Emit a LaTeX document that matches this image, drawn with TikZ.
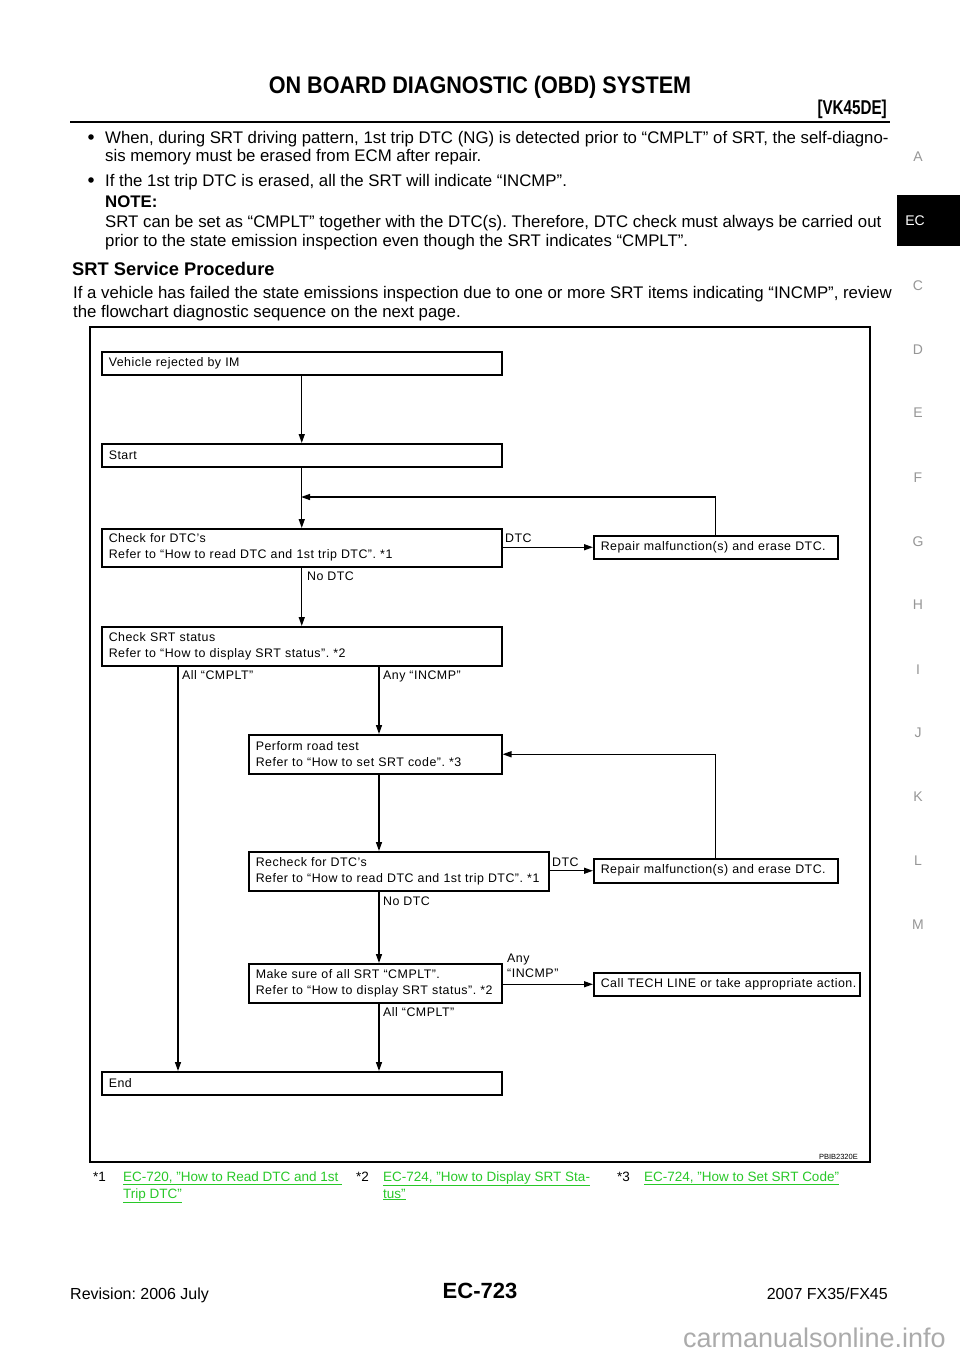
\documentclass[tikz,border=0pt]{standalone}
\usepackage{fontspec}
\setmainfont{Liberation Sans}
\newfontfamily\flowfont{Liberation Sans}[LetterSpace=4]
\newfontfamily\narrowfont{Liberation Sans}[FakeStretch=0.9]
\newfontfamily\tightfont{Liberation Sans}[FakeStretch=0.76]
\usetikzlibrary{arrows.meta}
\newcommand\bodyfs{\fontsize{16.8}{18}\selectfont}
\newcommand\flowfs{\fontsize{12.4}{16}\selectfont\flowfont}
\newcommand\footfs{\fontsize{13.5}{17}\selectfont}
\definecolor{linkgreen}{RGB}{40,200,40}
\definecolor{tabgray}{RGB}{150,150,150}
\frenchspacing
\begin{document}
\frenchspacing
\begin{tikzpicture}[x=1pt,y=-1pt,
  txt/.style={anchor=base west,inner sep=0pt,font=\bodyfs},
  box/.style={draw,line width=1.5pt,anchor=north west,inner xsep=7pt,inner ysep=0pt,align=left,font=\flowfs},
  lbl/.style={anchor=base west,inner sep=0pt,font=\flowfs},
  arr/.style={line width=1.4pt,-{Triangle[length=9pt,width=6pt]}},
  side/.style={inner sep=0pt,text=tabgray,font=\fontsize{14}{16}\selectfont},
  link/.style={anchor=base west,inner sep=0pt,font=\footfs,text=linkgreen}]
\useasboundingbox[fill=white] (0,0) rectangle (960,1358);
% header
\node[anchor=base,inner sep=0pt,font=\fontsize{24}{28}\selectfont\bfseries\narrowfont] (title) at (480,93.5) {ON BOARD DIAGNOSTIC (OBD) SYSTEM};
\node[anchor=base east,inner sep=0pt,font=\fontsize{20}{24}\selectfont\bfseries\tightfont] (model) at (887,114) {[VK45DE]};
\draw[line width=2.5pt] (70,122) -- (890,122);
% body text
\fill (91,137) circle (2.8);
\fill (91,180) circle (2.8);
\node[txt] (b1a) at (105,143) {When, during SRT driving pattern, 1st trip DTC (NG) is detected prior to “CMPLT” of SRT, the self-diagno-};
\node[txt] (b1b) at (105,161) {sis memory must be erased from ECM after repair.};
\node[txt] (b2) at (105,186) {If the 1st trip DTC is erased, all the SRT will indicate “INCMP”.};
\node[txt,font=\bodyfs\bfseries] (note) at (105,207) {NOTE:};
\node[txt] (n1) at (105,227) {SRT can be set as “CMPLT” together with the DTC(s). Therefore, DTC check must always be carried out};
\node[txt] (n2) at (105,246) {prior to the state emission inspection even though the SRT indicates “CMPLT”.};
\node[txt,font=\fontsize{18.3}{20}\selectfont\bfseries] (head) at (72,275) {SRT Service Procedure};
\node[txt] (p1) at (73,298) {If a vehicle has failed the state emissions inspection due to one or more SRT items indicating “INCMP”, review};
\node[txt] (p2) at (73,317) {the flowchart diagnostic sequence on the next page.};
% side tabs
\foreach \l/\yy in {A/157,C/286,D/350,E/413,F/478,G/542,H/605,I/670,J/733,K/797,L/861,M/925}
  \node[side] (tab\l) at (918,\yy) {\l};
\fill (897,195) rectangle (960,246);
\node[side,text=white] (tabEC) at (915,221) {EC};
% frame
\draw[line width=1.5pt] (90,327) rectangle (870,1162);
% flowchart boxes
\node[box,text width=386pt,minimum height=23pt] (vr) at (101,351) {\mbox{Vehicle rejected by IM}};
\node[box,text width=386pt,minimum height=23pt] (st) at (101,443) {\mbox{Start}};
\node[box,text width=386pt,minimum height=38pt] (cd) at (101,528) {\mbox{Check for DTC’s}\\\mbox{Refer to “How to read DTC and 1st trip DTC”. *1}};
\node[box,text width=230pt,minimum height=23pt] (r1) at (593,535) {\mbox{Repair malfunction(s) and erase DTC.}};
\node[box,text width=386pt,minimum height=39pt] (cs) at (101,626) {\mbox{Check SRT status}\\\mbox{Refer to “How to display SRT status”. *2}};
\node[box,text width=239pt,minimum height=39pt] (pr) at (248,734) {\mbox{Perform road test}\\\mbox{Refer to “How to set SRT code”. *3}};
\node[box,text width=286pt,minimum height=39pt] (rc) at (248,851) {\mbox{Recheck for DTC’s}\\\mbox{Refer to “How to read DTC and 1st trip DTC”. *1}};
\node[box,text width=230pt,minimum height=24pt] (r2) at (593,858) {\mbox{Repair malfunction(s) and erase DTC.}};
\node[box,text width=239pt,minimum height=39pt] (ms) at (248,963) {\mbox{Make sure of all SRT “CMPLT”.}\\\mbox{Refer to “How to display SRT status”. *2}};
\node[box,text width=252pt,minimum height=23pt] (tl) at (593,972) {\mbox{Call TECH LINE or take appropriate action.}};
\node[box,text width=386pt,minimum height=23pt] (end) at (101,1071) {\mbox{End}};
% connectors
\coordinate (xa) at (178,0);
\coordinate (xb) at (379,0);
\coordinate (j1) at (301,497);
\draw[arr] (vr) -- (st);
\draw[arr] (st) -- (cd);
\draw[arr] (cd) -- (cs);
\draw[arr] (cd.east |- r1.west) -- (r1.west);
\draw[arr] (r1.north) |- (j1);
\draw[arr] (cs.south -| xa) -- (end.north -| xa);
\draw[arr] (cs.south -| xb) -- (pr.north -| xb);
\draw[arr] (pr.south -| xb) -- (rc.north -| xb);
\draw[arr] (r2.north) |- (pr.east);
\draw[arr] (rc.east |- r2.west) -- (r2.west);
\draw[arr] (rc.south -| xb) -- (ms.north -| xb);
\draw[arr] (ms.east |- tl.west) -- (tl.west);
\draw[arr] (ms.south -| xb) -- (end.north -| xb);
% labels
\node[lbl] (l1) at (505,542) {DTC};
\node[lbl] (l2) at (307,580) {No DTC};
\node[lbl] (l3) at (182,679) {All “CMPLT”};
\node[lbl] (l4) at (383,679) {Any “INCMP”};
\node[lbl] (l5) at (552,866) {DTC};
\node[lbl] (l6) at (383,905) {No DTC};
\node[lbl] (l7a) at (507,962) {Any};
\node[lbl] (l7b) at (507,977) {“INCMP”};
\node[lbl] (l8) at (383,1016) {All “CMPLT”};
\node[anchor=base east,inner sep=0pt,font=\fontsize{7.5}{9}\selectfont] (code) at (858,1159.5) {PBIB2320E};
% footnotes
\node[txt,font=\footfs] (f1) at (93,1181) {*1};
\node[link] (f1a) at (123,1181) {\underline{EC-720, "How to Read DTC and 1st\ }};
\node[link] (f1b) at (123,1198) {\underline{Trip DTC"}};
\node[txt,font=\footfs] (f2) at (356,1181) {*2};
\node[link] (f2a) at (383,1181) {\underline{EC-724, "How to Display SRT Sta-}};
\node[link] (f2b) at (383,1198) {\underline{tus"}};
\node[txt,font=\footfs] (f3) at (617,1181) {*3};
\node[link] (f3a) at (644,1181) {\underline{EC-724, "How to Set SRT Code"}};
% footer
\node[txt,font=\fontsize{16}{18}\selectfont] (rev) at (70,1299) {Revision: 2006 July};
\node[anchor=base,inner sep=0pt,font=\fontsize{22}{24}\selectfont\bfseries] (pg) at (480,1298.5) {EC-723};
\node[anchor=base east,inner sep=0pt,font=\fontsize{16}{18}\selectfont] (yr) at (888,1299) {2007 FX35/FX45};
\node[anchor=base east,inner sep=0pt,text=tabgray!80,font=\fontsize{27}{30}\selectfont] (wm) at (946,1347) {carmanualsonline.info};
\end{tikzpicture}
\end{document}
